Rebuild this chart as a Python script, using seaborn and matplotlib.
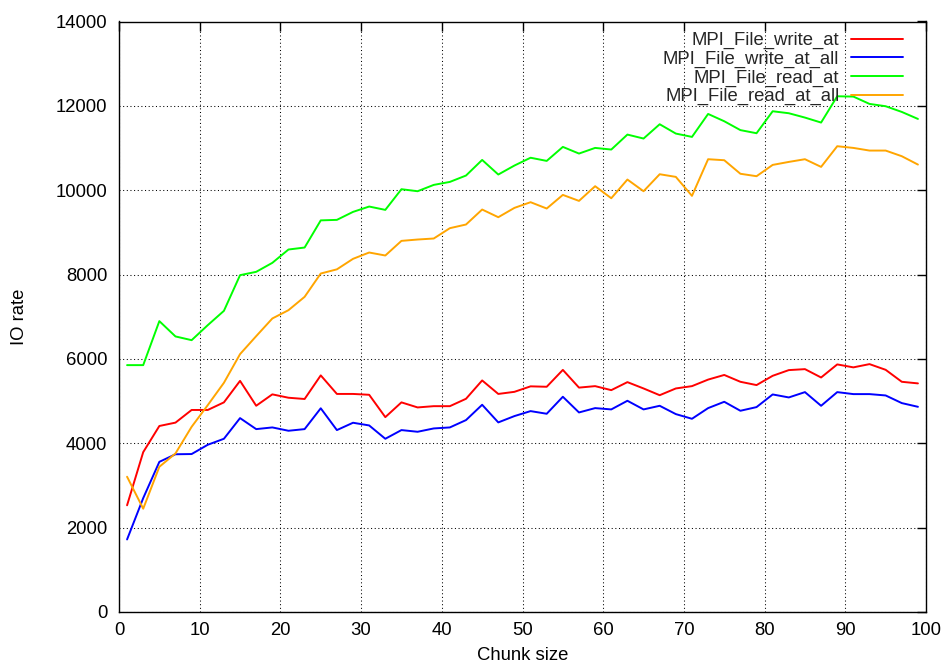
import numpy as np
import pandas as pd
import matplotlib
matplotlib.use("Agg")
import matplotlib.pyplot as plt
import seaborn as sns

# chunk sizes (odd values 1..99)
chunk = list(range(1, 100, 2))

write_at = [2530, 3790, 4410, 4490, 4790, 4790, 4970, 5480, 4890, 5160,
            5080, 5050, 5610, 5170, 5170, 5150, 4620, 4970, 4850, 4880,
            4880, 5055, 5490, 5170, 5220, 5350, 5340, 5740, 5320, 5355,
            5260, 5450, 5300, 5140, 5300, 5355, 5510, 5620, 5458, 5380,
            5600, 5735, 5758, 5560, 5870, 5800, 5877, 5742, 5458, 5420]

write_at_all = [1720, 2700, 3560, 3740, 3745, 3965, 4107, 4597, 4336, 4376,
                4297, 4336, 4830, 4313, 4487, 4423, 4107, 4313, 4273, 4352,
                4376, 4550, 4913, 4495, 4645, 4763, 4700, 5103, 4731, 4834,
                4803, 5008, 4803, 4889, 4692, 4581, 4834, 4984, 4771, 4858,
                5158, 5087, 5213, 4889, 5213, 5166, 5166, 5134, 4953, 4865]

read_at = [5853, 5853, 6896, 6533, 6445, 6801, 7140, 7986, 8065, 8278,
           8594, 8641, 9285, 9297, 9486, 9613, 9534, 10024, 9976, 10126,
           10197, 10348, 10718, 10372, 10585, 10770, 10695, 11027, 10869, 11003,
           10964, 11319, 11225, 11564, 11343, 11264, 11808, 11635, 11425, 11351,
           11872, 11825, 11722, 11604, 12227, 12220, 12046, 11991, 11856, 11690]

read_at_all = [3207, 2449, 3443, 3760, 4391, 4905, 5434, 6114, 6540, 6959,
               7156, 7472, 8025, 8124, 8373, 8523, 8452, 8799, 8831, 8855,
               9100, 9187, 9542, 9360, 9581, 9716, 9566, 9889, 9747, 10095,
               9810, 10253, 9976, 10379, 10316, 9866, 10735, 10711, 10390, 10332,
               10600, 10671, 10735, 10553, 11043, 11003, 10940, 10940, 10806, 10608]

series = ["MPI_File_write_at", "MPI_File_write_at_all",
          "MPI_File_read_at", "MPI_File_read_at_all"]
colors = ["#ff0000", "#0000ff", "#00ff00", "#ffa500"]

df = pd.DataFrame({
    "Chunk size": chunk * 4,
    "IO rate": write_at + write_at_all + read_at + read_at_all,
    "op": np.repeat(series, len(chunk)),
})

sns.set_theme(style="white")
plt.rcParams["font.family"] = ["Liberation Sans", "DejaVu Sans"]
plt.rcParams.update({
    "xtick.direction": "in", "ytick.direction": "in",
    "xtick.top": True, "ytick.right": True,
    "xtick.major.size": 6.5, "ytick.major.size": 6.5,
    "xtick.major.width": 1.0, "ytick.major.width": 1.0,
    "xtick.color": "black", "ytick.color": "black",
    "axes.edgecolor": "black", "axes.linewidth": 1.0,
})
fs = 13.3

fig = plt.figure(figsize=(9.46, 6.66), dpi=100)
ax = fig.add_axes([119 / 946, 1 - 612 / 666, (926 - 119) / 946, (612 - 21.5) / 666])

sns.lineplot(data=df, x="Chunk size", y="IO rate", hue="op",
             palette=dict(zip(series, colors)), linewidth=1.4, ax=ax)

ax.set_xlim(0, 100)
ax.set_ylim(0, 14000)
ax.set_xticks(range(0, 101, 10))
ax.set_yticks(range(0, 14001, 2000))
ax.tick_params(axis="both", labelsize=fs, colors="black")
ax.tick_params(axis="y", pad=8.5)
ax.tick_params(axis="x", pad=7)
ax.grid(True, color="black", linestyle=(0, (1, 2.5)), linewidth=0.75)
ax.set_axisbelow(True)
for s in ax.spines.values():
    s.set_zorder(5)

ax.set_xlabel("Chunk size", fontsize=fs, color="black", labelpad=6)
ax.set_ylabel("IO rate", fontsize=fs, color="black", labelpad=20)

handles, labels = ax.get_legend_handles_labels()
ax.legend(handles, labels, loc="upper right", bbox_to_anchor=(903 / 946, 1 - 32 / 666),
          bbox_transform=fig.transFigure, frameon=False, markerfirst=False,
          fontsize=fs, handlelength=2.8, handletextpad=0.65, labelspacing=0.08,
          borderpad=0, borderaxespad=0)

fig.savefig("out.png", dpi=100)
